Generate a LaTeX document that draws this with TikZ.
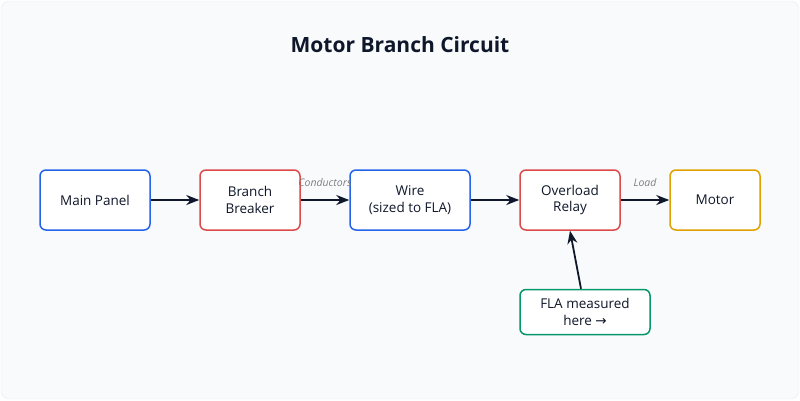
\documentclass[tikz,border=0pt]{standalone}
\usepackage{fontspec}
\setmainfont{Open Sans}
\newfontfamily\symfont{DejaVu Sans}
\usetikzlibrary{arrows.meta}
\definecolor{bluec}{HTML}{2563EB}
\definecolor{redc}{HTML}{DC4A4A}
\definecolor{greenc}{HTML}{059669}
\definecolor{amberc}{HTML}{E0A100}
\definecolor{bgc}{HTML}{F8FAFC}
\definecolor{edgec}{HTML}{0F172A}
\tikzset{x=1pt,y=-1pt,
 box/.style={draw=#1,line width=1.5pt,rounded corners=6pt,fill=white,align=center,font=\fontsize{13.5}{16.5}\selectfont,text=edgec,inner sep=0pt},
 conn/.style={-{Stealth[length=13pt,width=10pt]},line width=1.8pt,draw=edgec},
 lbl/.style={font=\itshape\fontsize{10.5}{12}\selectfont,text=gray}}
\begin{document}
\begin{tikzpicture}
\useasboundingbox (0,0) rectangle (800,400);
\draw[fill=bgc,draw=gray!15,rounded corners=8pt] (1,1) rectangle (799,399);
\node[font=\bfseries\fontsize{21}{25}\selectfont,text=edgec] (title) at (400,45) {Motor Branch Circuit};
\node[box=bluec,minimum width=110pt,minimum height=60pt] (mp) at (95,200) {Main Panel};
\node[box=redc,minimum width=100pt,minimum height=60pt] (bb) at (250,200) {Branch\\Breaker};
\node[box=bluec,minimum width=120pt,minimum height=60pt] (w) at (410,200) {Wire\\(sized to FLA)};
\node[box=redc,minimum width=100pt,minimum height=60pt] (ol) at (570,200) {Overload\\Relay};
\node[box=amberc,minimum width=90pt,minimum height=60pt] (m) at (715,200) {Motor};
\node[box=greenc,minimum width=130pt,minimum height=45pt] (fla) at (585,312) {FLA measured\\here {\symfont →}};
\draw[conn] (mp) -- (bb);
\draw[conn] (bb) -- (w);
\draw[conn] (w) -- (ol);
\draw[conn] (ol) -- (m);
\draw[conn] (fla.north -| 581,0) -- (ol.south);
\node[lbl] (l1) at (325,183) {Conductors};
\node[lbl] (l2) at (645,183) {Load};
\end{tikzpicture}
\end{document}
